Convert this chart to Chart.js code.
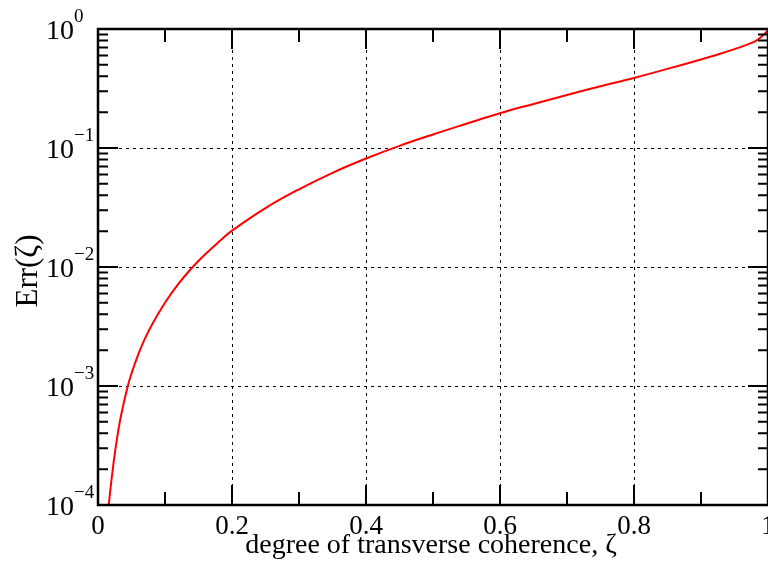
<!DOCTYPE html>
<html>
<head>
<meta charset="utf-8">
<script src="https://cdn.jsdelivr.net/npm/chart.js@4.4.0/dist/chart.umd.min.js"></script>
<style>
  html, body { margin: 0; padding: 0; background: #fff; }
  #wrap { width: 768px; height: 565px; }
</style>
</head>
<body>
<div id="wrap"><canvas id="errChart"></canvas></div>
<script>
// Err(zeta), values
const zeta = [0.016, 0.020, 0.025, 0.030, 0.035, 0.044, 0.050, 0.060, 0.070, 0.080, 0.100, 0.120, 0.140, 0.160, 0.180, 0.200, 0.250, 0.300, 0.350, 0.400, 0.450, 0.500, 0.550, 0.600, 0.650, 0.700, 0.750, 0.800, 0.850, 0.900, 0.930, 0.950, 0.970, 0.985, 1.000];
const err  = [1.0e-4, 1.6e-4, 2.69e-4, 4.14e-4, 5.88e-4, 9.78e-4, 1.275e-3, 1.836e-3, 2.5e-3, 3.23e-3, 5.0e-3, 7.2e-3, 9.8e-3, 1.28e-2, 1.62e-2, 2.02e-2, 3.13e-2, 4.5e-2, 6.19e-2, 8.16e-2, 0.1043, 0.130, 0.160, 0.196, 0.2345, 0.279, 0.330, 0.388, 0.462, 0.555, 0.623, 0.677, 0.743, 0.815, 0.970];

// axis ticks
const xMajor = [0, 0.2, 0.4, 0.6, 0.8, 1];
const xLabels = ['0', '0.2', '0.4', '0.6', '0.8', '1'];
const xMinor = [0.1, 0.3, 0.5, 0.7, 0.9];
const yMajor = [1e-4, 1e-3, 1e-2, 1e-1, 1];
const yExp = ['\u22124', '\u22123', '\u22122', '\u22121', '0'];
const yMinor = [];
for (let d = 0; d < yMajor.length - 1; d++) {
    for (let m = 2; m <= 9; m++) yMinor.push(m * yMajor[d]);
}

const xTitle = 'degree of transverse coherence, \u03B6';
const yTitle = 'Err(\u03B6)';
const serif = '"Liberation Serif", "DejaVu Serif", serif';

// frame, inward ticks and labels (xmgrace style)
const axesPlugin = {
    id: 'axesPlugin',
    afterDraw(chart) {
        const { ctx, chartArea: a, scales: { x, y } } = chart;
        ctx.save();
        ctx.strokeStyle = '#000';
        ctx.fillStyle = '#000';

        // ticks
        ctx.lineWidth = 2;
        ctx.beginPath();
        xMajor.forEach(v => {
            const px = x.getPixelForValue(v);
            ctx.moveTo(px, a.bottom); ctx.lineTo(px, a.bottom - 20);
            ctx.moveTo(px, a.top); ctx.lineTo(px, a.top + 20);
        });
        xMinor.forEach(v => {
            const px = x.getPixelForValue(v);
            ctx.moveTo(px, a.bottom); ctx.lineTo(px, a.bottom - 13);
            ctx.moveTo(px, a.top); ctx.lineTo(px, a.top + 13);
        });
        yMajor.forEach(v => {
            const py = y.getPixelForValue(v);
            ctx.moveTo(a.left, py); ctx.lineTo(a.left + 20, py);
            ctx.moveTo(a.right, py); ctx.lineTo(a.right - 20, py);
        });
        yMinor.forEach(v => {
            const py = y.getPixelForValue(v);
            ctx.moveTo(a.left, py); ctx.lineTo(a.left + 10, py);
            ctx.moveTo(a.right, py); ctx.lineTo(a.right - 10, py);
        });
        ctx.stroke();

        // frame
        ctx.lineWidth = 2.5;
        ctx.strokeRect(a.left, a.top, a.right - a.left, a.bottom - a.top);

        // x tick labels
        ctx.font = '27px ' + serif;
        ctx.textAlign = 'center';
        ctx.textBaseline = 'alphabetic';
        xMajor.forEach((v, i) => {
            ctx.fillText(xLabels[i], x.getPixelForValue(v), a.bottom + 29);
        });

        // y tick labels 10^n
        yMajor.forEach((v, i) => {
            const py = y.getPixelForValue(v);
            ctx.font = '28px ' + serif;
            ctx.textAlign = 'right';
            ctx.fillText('10', a.left - 24, py + 10);
            ctx.font = '19px ' + serif;
            ctx.textAlign = 'left';
            ctx.fillText(yExp[i], a.left - 24, py - 7);
        });

        // axis titles
        ctx.font = '28px ' + serif;
        ctx.textAlign = 'center';
        ctx.fillText(xTitle, (a.left + a.right) / 2 - 2, a.bottom + 48);
        ctx.save();
        ctx.font = '31px ' + serif;
        ctx.translate(37, (a.top + a.bottom) / 2 + 4);
        ctx.rotate(-Math.PI / 2);
        ctx.fillText(yTitle, 0, 0);
        ctx.restore();

        ctx.restore();
    }
};

const chart = new Chart(document.getElementById('errChart'), {
    type: 'line',
    data: {
        datasets: [{
            data: zeta.map((z, i) => ({ x: z, y: err[i] })),
            borderColor: '#ff0000',
            borderWidth: 2,
            pointRadius: 0,
            tension: 0.4,
            fill: false
        }]
    },
    options: {
        responsive: true,
        maintainAspectRatio: false,
        animation: false,
        events: [],
        layout: { padding: { top: 29, left: 0, right: 0, bottom: 0 } },
        plugins: { legend: { display: false }, tooltip: { enabled: false } },
        scales: {
            x: {
                type: 'linear',
                min: 0,
                max: 1,
                afterBuildTicks: s => { s.ticks = xMajor.map(v => ({ value: v })); },
                afterFit: s => { s.height = 60; },
                ticks: { display: false },
                grid: { color: '#000', lineWidth: 1, drawTicks: false },
                border: { display: false, dash: [3, 4] }
            },
            y: {
                type: 'logarithmic',
                min: 1e-4,
                max: 1,
                afterBuildTicks: s => { s.ticks = yMajor.map(v => ({ value: v })); },
                afterFit: s => { s.width = 98; },
                ticks: { display: false },
                grid: { color: '#000', lineWidth: 1, drawTicks: false },
                border: { display: false, dash: [3, 4] }
            }
        }
    },
    plugins: [axesPlugin]
});
</script>
</body>
</html>
